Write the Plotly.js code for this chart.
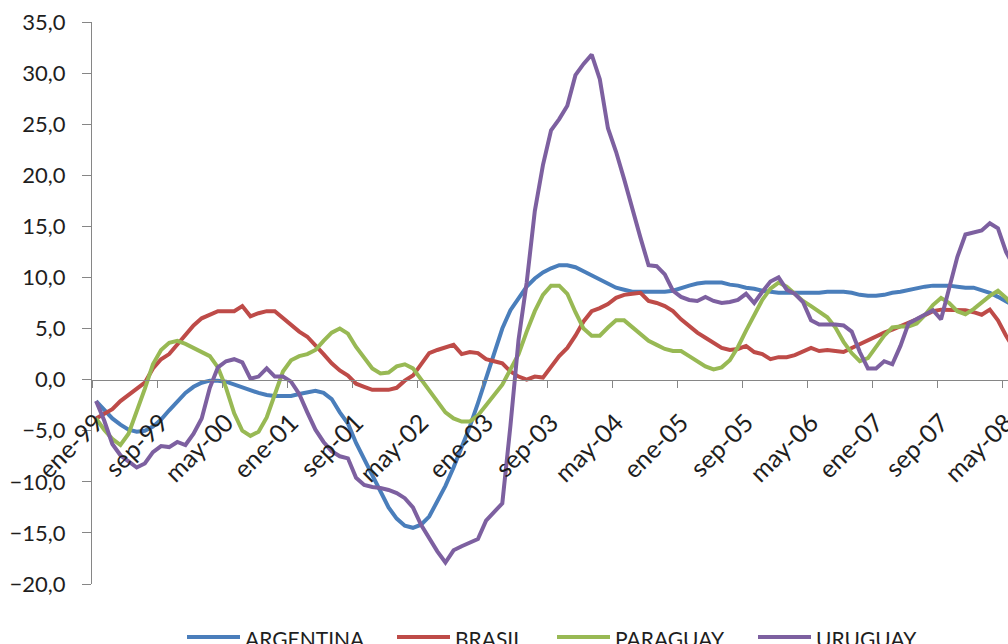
<!DOCTYPE html>
<html>
<head>
<meta charset="utf-8">
<script src="https://cdn.plot.ly/plotly-3.0.1.min.js"></script>
<style>
  html, body { margin: 0; padding: 0; background: #ffffff; overflow: hidden; }
  #chart { width: 1008px; height: 644px; }
</style>
</head>
<body>
<div id="chart"></div>
<script>
// Monthly series, enero 1999 onwards
const monthNames = ['ene','feb','mar','abr','may','jun','jul','ago','sep','oct','nov','dic'];
const firstYear = 1999;
const nMonths = 114;

const argentina = [
  -2.1,-3.0,-3.8,-4.4,-4.9,-5.1,-5.0,-4.6,-3.9,-3.0,
  -2.1,-1.3,-0.7,-0.3,-0.1,-0.1,-0.2,-0.5,-0.8,-1.1,
  -1.3,-1.5,-1.6,-1.6,-1.6,-1.4,-1.2,-1.1,-1.3,-1.9,
  -3.2,-4.3,-6.2,-7.8,-9.5,-11.1,-12.5,-13.6,-14.3,-14.5,
  -14.2,-13.4,-12.0,-10.4,-8.6,-6.6,-4.6,-2.3,0.2,2.5,
  5.0,6.8,8.0,9.1,9.9,10.5,10.9,11.2,11.2,11.0,
  10.6,10.2,9.8,9.3,9.0,8.8,8.6,8.6,8.6,8.6,
  8.6,8.7,9.0,9.2,9.4,9.5,9.5,9.5,9.3,9.2,
  9.0,8.9,8.7,8.6,8.5,8.5,8.5,8.5,8.5,8.5,
  8.6,8.6,8.6,8.5,8.3,8.2,8.2,8.3,8.5,8.6,
  8.8,9.0,9.1,9.2,9.2,9.2,9.1,9.0,9.0,8.8,
  8.5,8.1,7.7,7.2
];

const brasil = [
  -3.8,-3.4,-2.9,-2.1,-1.5,-1.0,-0.3,1.1,2.0,2.5,
  3.4,4.3,5.3,6.0,6.3,6.7,6.7,6.7,7.2,6.2,
  6.5,6.7,6.7,6.0,5.4,4.7,4.2,3.4,2.5,1.6,
  0.9,0.4,-0.4,-0.7,-1.0,-1.0,-1.0,-0.8,-0.1,0.4,
  1.5,2.6,2.9,3.2,3.4,2.5,2.7,2.6,2.0,1.8,
  1.6,0.8,0.3,0.0,0.3,0.2,1.3,2.3,3.1,4.3,
  5.7,6.7,7.0,7.4,8.0,8.3,8.4,8.5,7.7,7.5,
  7.2,6.7,5.9,5.2,4.6,4.1,3.6,3.1,2.9,3.0,
  3.3,2.7,2.5,2.0,2.2,2.2,2.4,2.8,3.1,2.8,
  2.9,2.8,2.7,3.1,3.5,3.9,4.3,4.6,4.9,5.2,
  5.5,5.9,6.3,6.7,6.85,6.85,6.85,6.8,6.6,6.35,
  6.85,5.8,4.3,3.0
];

const paraguay = [
  -3.8,-4.9,-5.8,-6.4,-5.3,-3.2,-0.9,1.5,2.9,3.6,
  3.8,3.5,3.1,2.8,2.3,1.2,-0.8,-3.3,-5.0,-5.5,
  -5.1,-3.7,-1.5,0.8,1.9,2.3,2.5,2.9,3.8,4.6,
  5.0,4.5,3.2,2.2,1.1,0.6,0.7,1.3,1.5,1.1,
  0.0,-1.0,-2.2,-3.2,-3.8,-4.1,-4.1,-3.5,-2.5,-1.5,
  -0.5,1.0,2.5,4.7,6.7,8.3,9.2,9.2,8.4,6.6,
  5.0,4.3,4.3,5.1,5.8,5.8,5.1,4.5,3.8,3.4,
  3.0,2.8,2.8,2.3,1.8,1.3,1.0,1.2,1.9,3.2,
  4.8,6.4,7.8,8.9,9.5,9.1,8.4,7.7,7.2,6.6,
  6.1,5.1,3.7,2.6,1.8,2.1,3.2,4.3,5.1,5.2,
  5.2,5.5,6.3,7.3,8.0,7.5,6.7,6.4,6.9,7.6,
  8.2,8.7,8.0,7.0
];

const uruguay = [
  -2.1,-4.0,-6.3,-7.4,-8.0,-8.6,-8.2,-7.1,-6.5,-6.6,
  -6.1,-6.4,-5.3,-3.8,-0.8,1.2,1.8,2.0,1.7,0.1,
  0.3,1.1,0.3,0.3,-0.2,-1.4,-3.2,-4.9,-6.1,-7.0,
  -7.5,-7.7,-9.6,-10.3,-10.5,-10.6,-10.8,-11.1,-11.6,-12.5,
  -14.2,-15.5,-16.8,-17.9,-16.7,-16.3,-16.0,-15.6,-13.8,-13.0,
  -12.1,-4.5,3.9,9.5,16.5,21.0,24.4,25.5,26.8,29.8,
  30.9,31.8,29.4,24.6,22.3,19.6,16.6,13.9,11.2,11.1,
  10.3,8.7,8.1,7.8,7.7,8.1,7.7,7.5,7.6,7.8,
  8.4,7.5,8.6,9.6,10.0,8.8,8.4,7.6,5.8,5.4,
  5.4,5.4,5.3,4.7,2.7,1.1,1.1,1.8,1.5,3.3,
  5.5,5.9,6.3,6.8,5.9,8.9,12.0,14.2,14.4,14.6,
  15.3,14.8,12.5,11.0
];

const seriesNames = ['ARGENTINA', 'BRASIL', 'PARAGUAY', 'URUGUAY'];
const seriesColors = ['#4a7ebb', '#be4b48', '#98b954', '#7d60a0'];
const seriesValues = [argentina, brasil, paraguay, uruguay];

// category labels "mmm-yy"
const categories = [];
for (let i = 0; i < nMonths; i++) {
  const yy = String((firstYear + Math.floor(i / 12)) % 100).padStart(2, '0');
  categories.push(monthNames[i % 12] + '-' + yy);
}

const yMin = -20, yMax = 35;
const labelRowValue = -2.2;   // level at which the date labels hang
const fontFamily = 'Lato, "Open Sans", sans-serif';
const textColor = '#1e1e1e';
const axisColor = '#868686';

const traces = seriesValues.map((vals, k) => ({
  type: 'scatter',
  mode: 'lines',
  name: seriesNames[k],
  x: categories,
  y: vals,
  line: { color: seriesColors[k], width: 4, shape: 'linear' },
  showlegend: false,
  hoverinfo: 'skip'
}));

// empty trace that carries the label axis
traces.push({
  type: 'scatter', mode: 'lines',
  x: categories, y: categories.map(() => null),
  xaxis: 'x2', yaxis: 'y',
  showlegend: false, hoverinfo: 'skip'
});

// Hand-built legend row under the plot
const plotLeft = 92, plotWidth = 916, plotTop = 22, plotHeight = 562;
const legendStartPx = [187, 397, 557, 758];
const legendLinePx = 53;
const legendRowPx = 637;
const toPaperX = px => (px - plotLeft) / plotWidth;
const toPaperY = py => (plotTop + plotHeight - py) / plotHeight;

const shapes = [];
const annotations = [];
seriesNames.forEach((name, k) => {
  const x0 = legendStartPx[k];
  shapes.push({
    type: 'line', xref: 'paper', yref: 'paper',
    x0: toPaperX(x0), x1: toPaperX(x0 + legendLinePx),
    y0: toPaperY(legendRowPx), y1: toPaperY(legendRowPx),
    line: { color: seriesColors[k], width: 4 }
  });
  annotations.push({
    xref: 'paper', yref: 'paper',
    x: toPaperX(x0 + legendLinePx + 3), y: toPaperY(legendRowPx + 1),
    xanchor: 'left', yanchor: 'middle',
    text: name, showarrow: false,
    font: { family: fontFamily, size: 21, color: textColor }
  });
});

const xRange = [-0.5, -0.5 + plotWidth / 8.125];

const layout = {
  width: 1008,
  height: 644,
  margin: { l: plotLeft, r: 1008 - plotLeft - plotWidth, t: plotTop, b: 644 - plotTop - plotHeight, pad: 0 },
  paper_bgcolor: '#ffffff',
  plot_bgcolor: '#ffffff',
  separators: ',.',
  showlegend: false,
  // axis line through zero with tick marks between month groups
  xaxis: {
    type: 'category',
    categoryorder: 'array',
    categoryarray: categories,
    range: xRange,
    anchor: 'free',
    position: (0 - yMin) / (yMax - yMin),
    showline: true,
    linecolor: axisColor,
    linewidth: 1,
    ticks: 'outside',
    ticklen: 7,
    tickwidth: 1,
    tickcolor: axisColor,
    tickson: 'boundaries',
    tickmode: 'linear',
    tick0: 0,
    dtick: 8,
    showticklabels: false,
    showgrid: false,
    zeroline: false,
    fixedrange: true
  },
  // date labels, every eighth month
  xaxis2: {
    type: 'category',
    overlaying: 'x',
    categoryorder: 'array',
    categoryarray: categories,
    range: xRange,
    anchor: 'free',
    position: (labelRowValue - yMin) / (yMax - yMin),
    side: 'bottom',
    showline: false,
    ticks: '',
    tickmode: 'linear',
    tick0: 0,
    dtick: 8,
    tickangle: -45,
    tickfont: { family: fontFamily, size: 25, color: textColor },
    showgrid: false,
    zeroline: false,
    fixedrange: true
  },
  yaxis: {
    range: [yMin, yMax],
    tick0: 0,
    dtick: 5,
    tickformat: '.1f',
    showline: true,
    linecolor: axisColor,
    linewidth: 1,
    ticks: 'outside',
    ticklen: 9,
    tickwidth: 1,
    tickcolor: axisColor,
    ticklabelstandoff: 12,
    tickfont: { family: fontFamily, size: 22, color: textColor },
    showgrid: false,
    zeroline: false,
    fixedrange: true
  },
  shapes: shapes,
  annotations: annotations
};

Plotly.newPlot('chart', traces, layout, { displayModeBar: false, staticPlot: true });
</script>
</body>
</html>
